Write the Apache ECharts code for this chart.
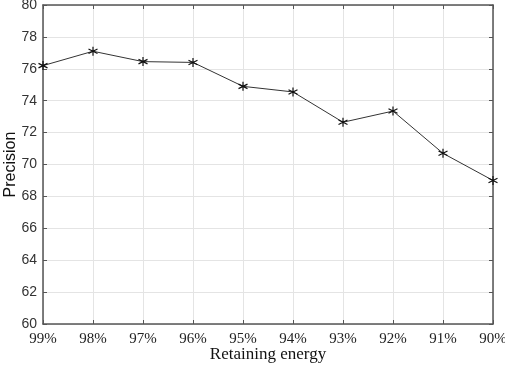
<!DOCTYPE html>
<html>
<head>
<meta charset="utf-8">
<script src="https://cdn.jsdelivr.net/npm/echarts@6/dist/echarts.min.js"></script>
<style>
  html, body { margin: 0; padding: 0; background: #fff; }
  #main { width: 505px; height: 365px; }
</style>
</head>
<body>
<div id="main"></div>
<script>
// 保留能量 (x轴)
var energyLabels = ['99%', '98%', '97%', '96%', '95%', '94%', '93%', '92%', '91%', '90%'];
// 精度
var precisionVals = [76.2, 77.1, 76.45, 76.4, 74.9, 74.55, 72.65, 73.35, 70.7, 69.0];

// 星号标记
var starPath = 'path://M0,-10L0,10M-8.66,-5L8.66,5M-8.66,5L8.66,-5';

var chart = echarts.init(document.getElementById('main'));
var axisCol = '#555';
var option = {
  animation: false,
  grid: { left: 43, right: 12, top: 5, bottom: 41, containLabel: false, outerBoundsMode: 'none' },
  xAxis: [{
    type: 'category',
    data: energyLabels,
    boundaryGap: false,
    name: 'Retaining energy',
    nameLocation: 'middle',
    nameGap: 22,
    nameMoveOverlap: false,
    nameTextStyle: { fontFamily: 'Liberation Serif', fontSize: 17, color: '#111' },
    axisLine: { lineStyle: { color: axisCol, width: 1.5 } },
    axisTick: { inside: true, length: 4, lineStyle: { color: axisCol } },
    axisLabel: { fontFamily: 'Liberation Serif', fontSize: 15, color: '#222', margin: 8 },
    splitLine: { show: true, lineStyle: { color: '#e4e4e4' } }
  }, {
    type: 'category',
    data: energyLabels,
    boundaryGap: false,
    position: 'top',
    axisLine: { lineStyle: { color: axisCol, width: 1.5 } },
    axisTick: { inside: true, length: 4, lineStyle: { color: axisCol } },
    axisLabel: { show: false },
    splitLine: { show: false }
  }],
  yAxis: [{
    type: 'value',
    min: 60,
    max: 80,
    interval: 2,
    name: 'Precision',
    nameLocation: 'middle',
    nameGap: 24,
    nameMoveOverlap: false,
    nameTextStyle: { fontFamily: 'Liberation Sans', fontSize: 16, color: '#111' },
    axisLine: { show: true, lineStyle: { color: axisCol, width: 1.5 } },
    axisTick: { show: true, inside: true, length: 4, lineStyle: { color: axisCol } },
    axisLabel: { fontFamily: 'Liberation Sans', fontSize: 14, color: '#333', margin: 6 },
    splitLine: { show: true, lineStyle: { color: '#e4e4e4' } }
  }, {
    type: 'value',
    min: 60,
    max: 80,
    interval: 2,
    position: 'right',
    axisLine: { show: true, lineStyle: { color: axisCol, width: 1.5 } },
    axisTick: { show: true, inside: true, length: 4, lineStyle: { color: axisCol } },
    axisLabel: { show: false },
    splitLine: { show: false }
  }],
  series: [{
    name: 'Precision',
    type: 'line',
    data: precisionVals,
    symbol: starPath,
    symbolSize: 9,
    showAllSymbol: true,
    lineStyle: { color: '#333', width: 1 },
    itemStyle: { color: 'transparent', borderColor: '#111', borderWidth: 1.2 }
  }]
};
chart.setOption(option);
</script>
</body>
</html>
